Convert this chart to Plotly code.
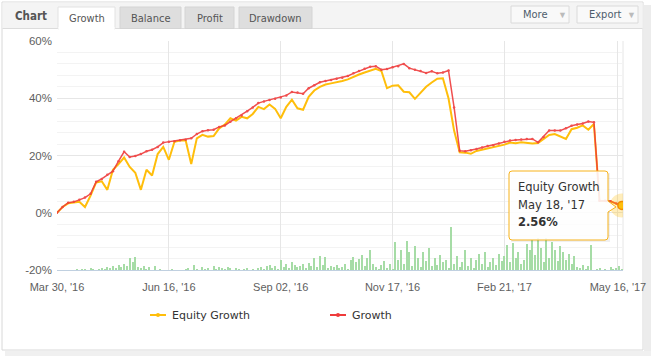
import plotly.graph_objects as go

# ---------------- data ----------------
tick_labels = ["Mar 30, '16", "Jun 16, '16", "Sep 02, '16", "Nov 17, '16", "Feb 21, '17", "May 16, '17"]
tick_index = [0, 20, 40, 60, 80, 100.3]
y_ticks = [-20, 0, 20, 40, 60]

growth = [0, 2.0, 3.5, 3.8, 4.5, 5.3, 6.6, 10.8, 11.8, 13.3,
          14.5, 18.0, 21.3, 19.5, 19.8, 20.5, 21.5, 22.0, 23.0, 24.5,
          24.8, 25.0, 25.3, 25.5, 26.0, 27.5, 28.5, 28.8, 29.0, 30.0,
          30.5, 31.8, 33.0, 34.0, 35.5, 36.8, 38.3, 38.9, 39.4, 39.8,
          40.3, 41.0, 42.2, 42.0, 41.6, 43.5, 44.5, 45.6, 46.0, 46.4,
          46.8, 47.2, 47.8, 48.7, 49.5, 50.3, 51.0, 51.2, 50.0, 50.2,
          50.8, 51.2, 52.0, 50.5, 50.0, 49.5, 48.8, 49.4, 48.7, 49.0,
          49.7, 36.8, 21.7, 21.5, 21.8, 22.3, 22.8, 23.3, 23.6, 24.2,
          24.8, 25.2, 25.4, 25.6, 25.8, 25.8, 24.6, 26.5, 28.7, 28.7,
          28.7, 29.5, 30.4, 30.8, 31.2, 31.9, 31.6, 4.2, 4.2, 4.0,
          3.2, 2.6]

equity = [0, 2.0, 3.3, 3.5, 3.8, 2.0, 6.0, 10.6, 11.0, 8.0,
          15.0, 17.0, 19.3, 16.0, 14.0, 8.0, 15.0, 13.0, 20.5, 23.0,
          18.5, 24.8, 25.2, 25.3, 17.0, 26.0, 27.2, 26.6, 26.8, 29.5,
          30.8, 33.0, 32.2, 33.5, 33.0, 34.5, 37.0, 36.2, 37.8, 36.3,
          33.0, 37.0, 39.5, 36.5, 36.0, 40.5, 42.7, 44.0, 44.8, 45.2,
          45.5, 46.0, 46.6, 47.5, 48.3, 49.0, 49.7, 50.3, 49.5, 43.5,
          44.4, 44.5, 42.3, 42.1, 39.8, 42.0, 44.0, 45.5, 46.8, 47.0,
          40.0, 28.7, 21.1, 21.0, 20.6, 21.6, 22.0, 22.6, 23.0, 23.4,
          23.8, 24.5, 24.3, 24.6, 24.4, 24.2, 24.4, 25.8, 27.2, 27.5,
          26.6, 25.8, 29.2, 29.7, 30.5, 29.0, 31.0, 4.2, 4.1, 3.9,
          3.2, 2.56]

volume = [0, 0, 0, 0, 0, 0, 0, 1, 0, 1,
          1, 0, 2, 1, 0, 1, 2, 1, 3, 2,
          4, 2, 5, 3, 6, 4, 12, 8, 13, 3,
          2, 4, 1, 3, 0, 4, 0, 1, 0, 0,
          0, 1, 0, 0, 0, 0, 1, 2, 0, 5,
          1, 0, 3, 1, 2, 0, 4, 1, 3, 2,
          1, 3, 2, 0, 2, 1, 0, 1, 2, 0,
          1, 0, 2, 3, 1, 4, 5, 2, 4, 1,
          10, 3, 6, 2, 8, 5, 3, 4, 6, 2,
          7, 4, 12, 3, 14, 5, 13, 2, 4, 3,
          5, 2, 3, 6, 1, 10, 13, 8, 11, 15,
          4, 12, 20, 6, 3, 1, 5, 9, 2, 6,
          1, 28, 10, 20, 6, 29, 18, 4, 24, 12,
          3, 18, 9, 22, 4, 12, 5, 15, 8, 10,
          2, 43, 6, 14, 3, 8, 20, 4, 12, 2,
          10, 16, 6, 18, 3, 8, 12, 5, 16, 9,
          14, 25, 8, 27, 12, 18, 6, 10, 26, 20,
          30, 15, 32, 22, 8, 32, 12, 28, 20, 9,
          24, 18, 10, 16, 6, 14, 3, 2, 5, 1,
          4, 25, 0, 1, 2, 0, 1, 0, 3, 1,
          2, 4, 1, 0]

tab_names = ["Growth", "Balance", "Profit", "Drawdown"]
legend_names = ["Equity Growth", "Growth"]
tooltip_date = "May 18, '17"

# ---------------- layout helpers ----------------
W, H = 652, 359
L, R, T, B = 57, 29, 41, 89
PW = W - L - R
PH = H - T - B


def px(x):
    return (x - L) / PW


def py(y):
    return (H - B - y) / PH


YELLOW = "#ffbe0b"
RED = "#ef3b3b"
VOL = "#a6dca6"
SANS = "Liberation Sans, Arial, sans-serif"
VERD = "DejaVu Sans Condensed, DejaVu Sans, Verdana, sans-serif"
DJV = "DejaVu Sans, Verdana, sans-serif"

x_line = list(range(len(growth)))
x_vol = [k * 0.5 for k in range(len(volume))]

fig = go.Figure()
fig.add_trace(go.Bar(x=x_vol, y=volume, yaxis="y2", marker_color=VOL,
                     marker_line_width=0, width=0.18, showlegend=False,
                     hoverinfo="skip"))
fig.add_trace(go.Scatter(x=x_line, y=equity, mode="lines", name=legend_names[0],
                         line=dict(color=YELLOW, width=2), showlegend=False))
fig.add_trace(go.Scatter(x=x_line, y=growth, mode="lines+markers", name=legend_names[1],
                         line=dict(color=RED, width=1.5), marker=dict(size=2.5, color=RED),
                         opacity=0.9, showlegend=False))
# highlighted last point
fig.add_trace(go.Scatter(x=[x_line[-1]], y=[equity[-1]], mode="markers",
                         marker=dict(size=24, color="rgba(255,190,11,0.28)"),
                         showlegend=False, hoverinfo="skip"))
fig.add_trace(go.Scatter(x=[x_line[-1]], y=[equity[-1]], mode="markers",
                         marker=dict(size=8, color=YELLOW, line=dict(color="#f08c00", width=1.5)),
                         showlegend=False, hoverinfo="skip"))

shapes = []
annos = []

# card shadow and border
shapes.append(dict(type="rect", xref="paper", yref="paper", x0=px(644), x1=px(651), y0=py(5), y1=py(353),
                   fillcolor="#ececec", line=dict(width=0), layer="below"))
shapes.append(dict(type="rect", xref="paper", yref="paper", x0=px(5), x1=px(651), y0=py(351), y1=py(356),
                   fillcolor="#f0f0f0", line=dict(width=0), layer="below"))
shapes.append(dict(type="rect", xref="paper", yref="paper", x0=px(2), x1=px(643), y0=py(2), y1=py(350),
                   fillcolor="white", line=dict(color="#d8d8d8", width=1), layer="below"))
# header bar
shapes.append(dict(type="rect", xref="paper", yref="paper", x0=px(2.5), x1=px(642.5), y0=py(2.5), y1=py(28.5),
                   fillcolor="#f4f4f4", line=dict(width=0), layer="below"))
shapes.append(dict(type="line", xref="paper", yref="paper", x0=px(2.5), x1=px(642.5), y0=py(28.5), y1=py(28.5),
                   line=dict(color="#dcdcdc", width=1), layer="below"))

annos.append(dict(text="<b>Chart</b>", x=px(13), y=py(16), xref="paper", yref="paper",
                  xanchor="left", yanchor="middle", showarrow=False,
                  font=dict(family=VERD, size=11.5, color="#555555")))

tabs = [(58, 115), (120, 181), (185, 234), (239, 312)]
for i, (a, b) in enumerate(tabs):
    active = i == 0
    shapes.append(dict(type="rect", xref="paper", yref="paper", x0=px(a), x1=px(b),
                       y0=py(7), y1=py(29 if active else 28.5),
                       fillcolor="white" if active else "#dedede",
                       line=dict(color="#d4d4d4" if not active else "#e2e2e2", width=1), layer="below"))
    annos.append(dict(text=tab_names[i], x=px((a + b) / 2), y=py(18), xref="paper", yref="paper",
                      xanchor="center", yanchor="middle", showarrow=False,
                      font=dict(family=VERD, size=11, color="#555555")))
# cover under active tab
shapes.append(dict(type="rect", xref="paper", yref="paper", x0=px(58.5), x1=px(114.5), y0=py(27), y1=py(30),
                   fillcolor="white", line=dict(width=0), layer="below"))

# buttons
for label, a, b in [("More", 511, 569), ("Export", 577, 638)]:
    shapes.append(dict(type="rect", xref="paper", yref="paper", x0=px(a), x1=px(b), y0=py(6), y1=py(23),
                       fillcolor="#f9f9f9", line=dict(color="#dadada", width=1), layer="below"))
    annos.append(dict(text=label, x=px(a + 10), y=py(15), xref="paper", yref="paper",
                      xanchor="left", yanchor="middle", showarrow=False,
                      font=dict(family=VERD, size=11, color="#4e5d6c")))
    annos.append(dict(text="▼", x=px(b - 7), y=py(15), xref="paper", yref="paper",
                      xanchor="center", yanchor="middle", showarrow=False,
                      font=dict(family=SANS, size=9, color="#bbbbbb")))

# plot frame right
shapes.append(dict(type="line", xref="paper", yref="paper", x0=1, x1=1, y0=0, y1=1,
                   line=dict(color="#e6e6e6", width=1), layer="below"))

# tooltip
bx0, bx1, by0, by1, r = 509, 608, 171, 240, 3
tip_x, tip_y = 616, 207
path = (f"M {px(bx0 + r)},{py(by0)} L {px(bx1 - r)},{py(by0)} "
        f"Q {px(bx1)},{py(by0)} {px(bx1)},{py(by0 + r)} "
        f"L {px(bx1)},{py(tip_y - 6)} L {px(tip_x)},{py(tip_y)} L {px(bx1)},{py(tip_y + 5)} "
        f"L {px(bx1)},{py(by1 - r)} Q {px(bx1)},{py(by1)} {px(bx1 - r)},{py(by1)} "
        f"L {px(bx0 + r)},{py(by1)} Q {px(bx0)},{py(by1)} {px(bx0)},{py(by1 - r)} "
        f"L {px(bx0)},{py(by0 + r)} Q {px(bx0)},{py(by0)} {px(bx0 + r)},{py(by0)} Z")
shapes.append(dict(type="path", xref="paper", yref="paper",
                   path=(f"M {px(bx0 + 2)},{py(by0 + 2)} L {px(bx1 + 2)},{py(by0 + 2)} L {px(bx1 + 2)},{py(by1 + 2)} "
                         f"L {px(bx0 + 2)},{py(by1 + 2)} Z"),
                   fillcolor="rgba(0,0,0,0.06)", line=dict(width=0), layer="above"))
shapes.append(dict(type="path", xref="paper", yref="paper", path=path,
                   fillcolor="rgba(255,255,255,0.88)", line=dict(color="#f7b21b", width=1), layer="above"))
tip_lines = [(legend_names[0], 187, False), (tooltip_date, 205, False), (f"{equity[-1]:.2f}%", 222, True)]
for txt, yy, bold in tip_lines:
    annos.append(dict(text=f"<b>{txt}</b>" if bold else txt, x=px(516), y=py(yy), xref="paper", yref="paper",
                      xanchor="left", yanchor="middle", showarrow=False,
                      font=dict(family=DJV, size=11.5, color="#333333")))

# custom legend
leg = [(legend_names[0], YELLOW, 150), (legend_names[1], RED, 330)]
for name, col, x0 in leg:
    shapes.append(dict(type="line", xref="paper", yref="paper", x0=px(x0), x1=px(x0 + 16), y0=py(315), y1=py(315),
                       line=dict(color=col, width=2)))
    shapes.append(dict(type="circle", xref="paper", yref="paper", x0=px(x0 + 6), x1=px(x0 + 10),
                       y0=py(313), y1=py(317), fillcolor=col, line=dict(width=0)))
    annos.append(dict(text=name, x=px(x0 + 20), y=py(315), xref="paper", yref="paper",
                      xanchor="left", yanchor="middle", showarrow=False,
                      font=dict(family=DJV, size=11, color="#333333")))

fig.update_layout(
    width=W, height=H, autosize=False,
    margin=dict(l=L, r=R, t=T, b=B, pad=0, autoexpand=False),
    paper_bgcolor="white", plot_bgcolor="rgba(0,0,0,0)",
    showlegend=False, bargap=0,
    xaxis=dict(range=[0, 101.2], tickvals=tick_index, ticktext=tick_labels, automargin=False,
               showgrid=True, gridcolor="#e6e6e6", gridwidth=1, zeroline=False,
               showline=True, linecolor="#c0d0e0", linewidth=1, ticks="",
               ticklabelstandoff=7,
               tickfont=dict(family=SANS, size=11, color="#606060")),
    yaxis=dict(range=[-20, 60], tickvals=y_ticks, ticktext=[f"{v}%" for v in y_ticks], automargin=False,
               showgrid=True, gridcolor="#e6e6e6", zeroline=False, showline=False, ticks="",
               ticklabelstandoff=4,
               minor=dict(dtick=4, tick0=0, showgrid=True, gridcolor="#f3f3f3"),
               tickfont=dict(family=SANS, size=11.5, color="#606060")),
    yaxis2=dict(range=[0, PH], overlaying="y", visible=False, automargin=False),
    shapes=shapes, annotations=annos,
)

fig.write_html("out.html", config={"displayModeBar": False, "responsive": False},
               post_script="document.body.style.margin='0';")
